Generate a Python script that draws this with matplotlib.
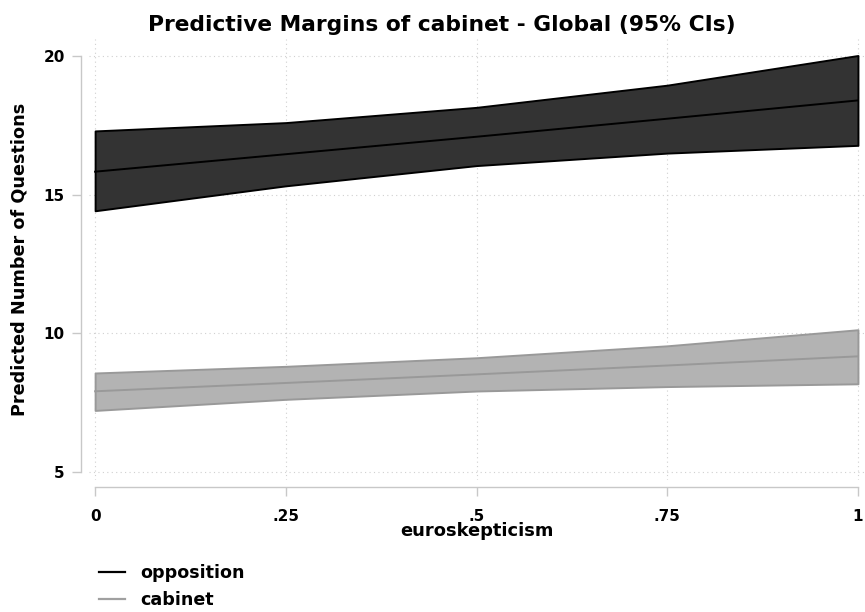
import numpy as np
import matplotlib
matplotlib.use("Agg")
import matplotlib.pyplot as plt
from matplotlib.lines import Line2D

# ============================
# DATA
# ============================
euro = [0, 0.25, 0.5, 0.75, 1]
xtick_labels = ["0", ".25", ".5", ".75", "1"]
yticks = [5, 10, 15, 20]

opp_mean = [15.83, 16.46, 17.09, 17.74, 18.40]
opp_lo = [14.42, 15.32, 16.05, 16.50, 16.78]
opp_hi = [17.30, 17.60, 18.15, 18.95, 20.02]

cab_mean = [7.91, 8.21, 8.52, 8.84, 9.17]
cab_lo = [7.22, 7.62, 7.92, 8.08, 8.18]
cab_hi = [8.57, 8.81, 9.12, 9.55, 10.13]

plt.rcParams['font.family'] = ['DejaVu Sans']
plt.rcParams['font.weight'] = 'bold'

fig = plt.figure(figsize=(8.65, 6.12), dpi=100)
ax = fig.add_axes([0.1029, 0.2152, 0.896, 0.7204])

# confidence bands + point estimates
ax.fill_between(euro, opp_lo, opp_hi, facecolor='#333333', edgecolor='black', linewidth=1.4, zorder=2)
ax.plot(euro, opp_mean, color='black', linewidth=1.4, zorder=3)

ax.fill_between(euro, cab_lo, cab_hi, facecolor='#b3b3b3', edgecolor='#999999', linewidth=1.4, zorder=2)
ax.plot(euro, cab_mean, color='#999999', linewidth=1.4, zorder=3)

ax.set_xlim(-0.008, 1.008)
ax.set_ylim(4.7, 20.6)
ax.set_xticks(euro)
ax.set_xticklabels(xtick_labels)
ax.set_yticks(yticks)

ax.grid(True, linestyle=(0, (1, 3)), color='#d0d0d0', linewidth=0.8, zorder=0)

for s in ['top', 'right']:
    ax.spines[s].set_visible(False)
ax.spines['left'].set_position(('outward', 6))
ax.spines['bottom'].set_position(('outward', 5))
ax.spines['left'].set_bounds(5, 20)
ax.spines['bottom'].set_bounds(0, 1)
for s in ['left', 'bottom']:
    ax.spines[s].set_color('#c8c8c8')
    ax.spines[s].set_linewidth(1.0)

ax.tick_params(axis='both', colors='#c8c8c8', labelcolor='black', length=6.5, width=1.0, labelsize=11)
ax.tick_params(axis='y', pad=5)
ax.tick_params(axis='x', pad=9)

fig.text(0.511, 1 - 31 / 612, "Predictive Margins of cabinet - Global (95% CIs)",
         fontsize=15.7, fontweight='bold', ha='center', va='baseline')
ax.set_xlabel("euroskepticism", fontsize=12.9, fontweight='bold', labelpad=-1)
ax.set_ylabel("Predicted Number of Questions", fontsize=12.7, fontweight='bold', labelpad=11)

handles = [Line2D([], [], color='black', linewidth=1.6),
           Line2D([], [], color='#a0a0a0', linewidth=1.6)]
fig.legend(handles, ["opposition", "cabinet"], loc='upper left', bbox_to_anchor=(0.096, 0.104),
           frameon=False, handlelength=1.5, handletextpad=0.85, labelspacing=0.5,
           prop={'weight': 'bold', 'size': 12.6})

fig.savefig("out.png", dpi=100)
